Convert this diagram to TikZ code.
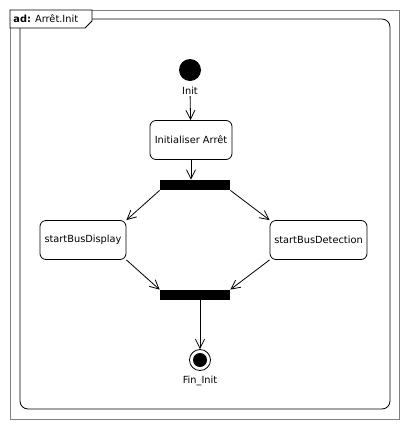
\documentclass[tikz,border=0pt]{standalone}
\usepackage{fontspec}
\setmainfont{DejaVu Sans}
\usetikzlibrary{arrows.meta}
\begin{document}
\begin{tikzpicture}[x=1pt,y=-1pt, line width=0.8pt,
  lbl/.style={font=\fontsize{9.8}{11}\selectfont, inner sep=1pt},
  action/.style={draw, rounded corners=6pt, minimum height=39pt, inner sep=1pt, font=\fontsize{9.8}{11}\selectfont},
  bar/.style={fill=black, minimum width=70pt, minimum height=10pt, inner sep=0pt},
  flow/.style={-{Straight Barb[length=9pt,width=9pt,line width=0.8pt]}}]
\useasboundingbox (0,0) rectangle (409,429);
% frame
\draw[gray] (10,10) rectangle (399,419);
\draw[rounded corners=8pt] (20,19) rectangle (390,409);
\draw[fill=white] (10,10) -- (92,10) -- (92,21) -- (85,28) -- (10,28) -- cycle;
\node[lbl, anchor=west] (title) at (12,19) {\textbf{ad:} Arrêt.Init};
% nodes
\node[circle, fill, minimum size=22pt, inner sep=0pt] (init) at (190,70) {};
\node[lbl] (initlbl) at (190,91) {Init};
\node[action, minimum width=82pt] (act1) at (191,140) {Initialiser Arrêt};
\node[bar] (fork) at (195,185) {};
\node[action, minimum width=86pt] (disp) at (83,240) {startBusDisplay};
\node[action, minimum width=97pt] (detect) at (318.5,240) {startBusDetection};
\node[bar] (join) at (195,295) {};
\node[circle, draw, minimum size=21pt, inner sep=0pt] (final) at (200,360) {};
\node[circle, fill, minimum size=14pt, inner sep=0pt] (finaldot) at (final) {};
\node[lbl] (finlbl) at (200,381) {Fin\_Init};
% flows
\draw[flow] (initlbl) to (act1);
\draw[flow] (act1) to (act1.south |- fork.north);
\draw[flow] (fork.south west) to (disp.north east);
\draw[flow] (fork.south east) to (detect.north west);
\draw[flow] (disp.south east) to (join.north west);
\draw[flow] (detect.south west) to (join.north east);
\draw[flow] (join.south -| final.north) to (final);
\end{tikzpicture}
\end{document}
